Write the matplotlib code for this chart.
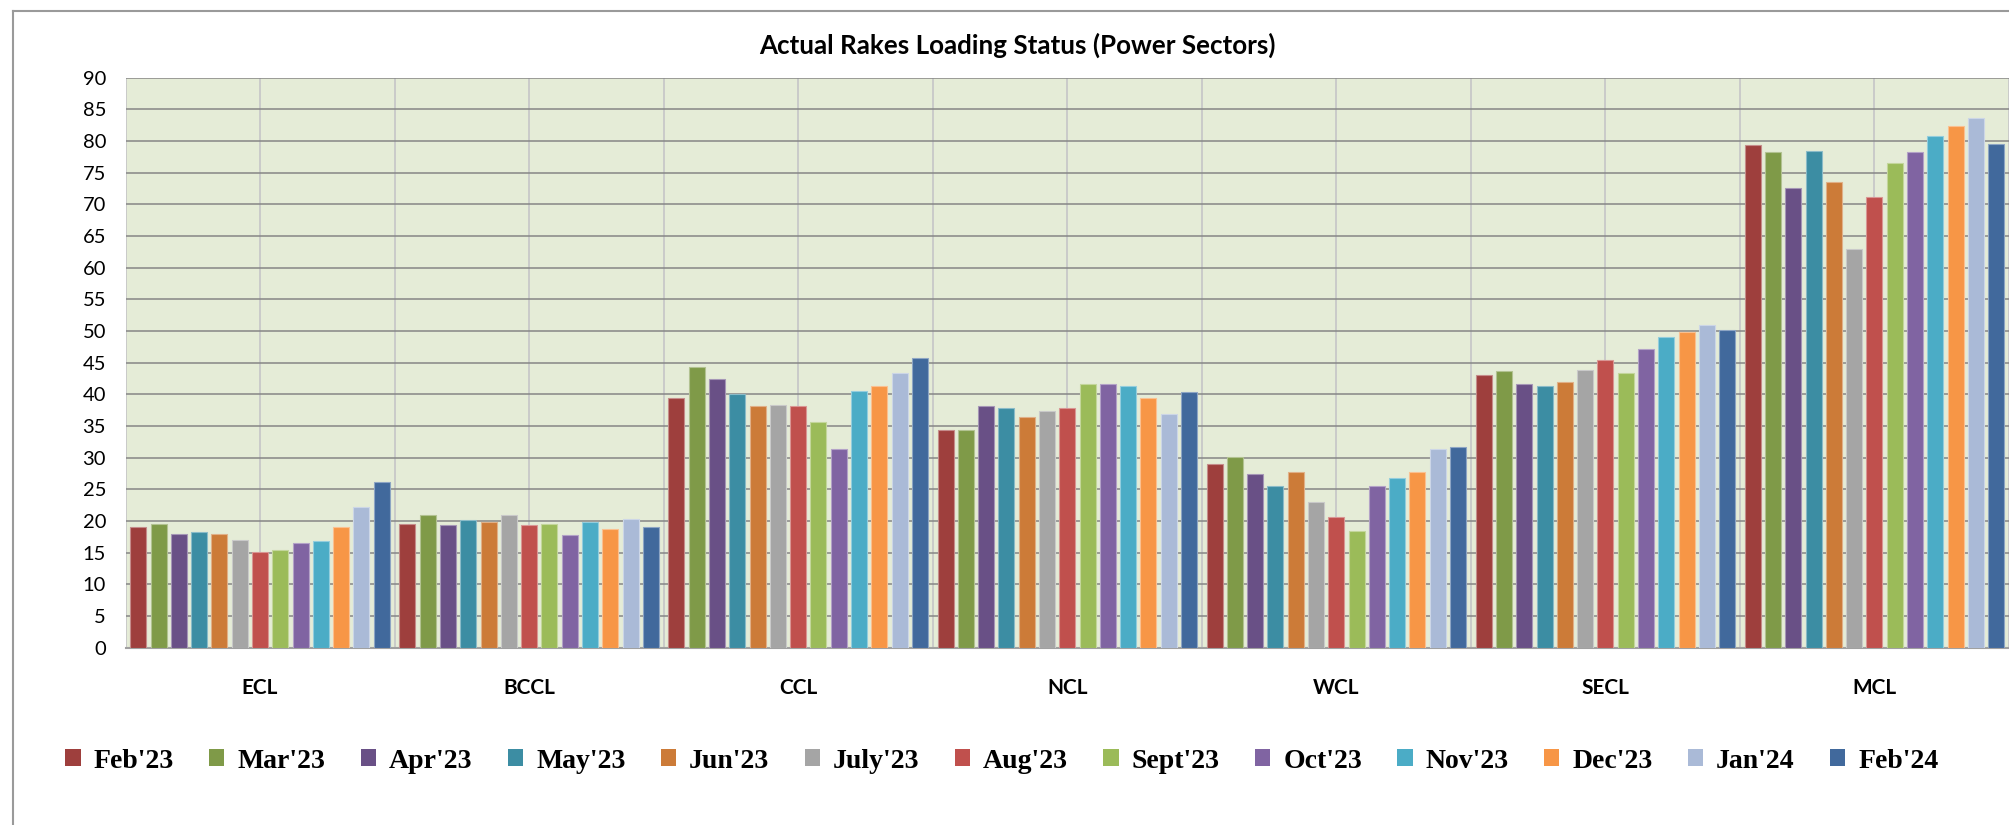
import matplotlib
matplotlib.use("Agg")
import matplotlib.pyplot as plt
import numpy as np
from matplotlib.lines import Line2D
from matplotlib.patches import Patch
import matplotlib.colors as mcolors

title = "Actual Rakes Loading Status (Power Sectors)"
companies = ["ECL", "BCCL", "CCL", "NCL", "WCL", "SECL", "MCL"]
months = ["Feb'23", "Mar'23", "Apr'23", "May'23", "Jun'23", "July'23", "Aug'23",
          "Sept'23", "Oct'23", "Nov'23", "Dec'23", "Jan'24", "Feb'24"]

feb23 = [19.0, 19.5, 39.5, 34.4, 29.0, 43.1, 79.4]
mar23 = [19.6, 21.0, 44.4, 34.3, 30.1, 43.7, 78.2]
apr23 = [18.0, 19.4, 42.4, 38.2, 27.4, 41.6, 72.6]
may23 = [18.3, 20.1, 40.0, 37.9, 25.6, 41.4, 78.5]
jun23 = [18.0, 19.8, 38.2, 36.4, 27.7, 42.0, 73.5]
jul23 = [17.0, 21.0, 38.4, 37.4, 23.0, 43.8, 62.9]
aug23 = [15.1, 19.4, 38.2, 37.9, 20.6, 45.4, 71.2]
sep23 = [15.5, 19.5, 35.7, 41.7, 18.4, 43.4, 76.6]
oct23 = [16.6, 17.8, 31.3, 41.6, 25.5, 47.1, 78.3]
nov23 = [16.9, 19.9, 40.5, 41.3, 26.8, 49.0, 80.8]
dec23 = [19.1, 18.8, 41.3, 39.5, 27.7, 49.8, 82.4]
jan24 = [22.2, 20.3, 43.3, 36.9, 31.4, 50.9, 83.6]
feb24 = [26.1, 19.1, 45.8, 40.3, 31.7, 50.1, 79.5]

series = [feb23, mar23, apr23, may23, jun23, jul23, aug23, sep23, oct23, nov23, dec23, jan24, feb24]
colors = ["#9E3F3D", "#7F9A48", "#695086", "#3C8DA3", "#CC7B38", "#A5A5A5", "#C0504D",
          "#9BBB59", "#8064A2", "#4BACC6", "#F79646", "#AABAD7", "#41699C"]

W, H = 2009, 825
fig = plt.figure(figsize=(W / 100, H / 100), dpi=100)
fig.patch.set_facecolor("white")

# outer chart frame (top and left visible)
fig.add_artist(Line2D([12.5 / W, 1.0], [1 - 11 / H, 1 - 11 / H], transform=fig.transFigure,
                      color="#9A9A9A", lw=1.5))
fig.add_artist(Line2D([12.5 / W, 12.5 / W], [0, 1 - 11 / H], transform=fig.transFigure,
                      color="#9A9A9A", lw=1.5))

ax = fig.add_axes([125.5 / W, (H - 647.7) / H, (W - 125.5) / W, (647.7 - 77.7) / H])
ax.set_facecolor("#E5ECD7")

x = np.arange(len(companies))
pitch = 0.0754
bw = 0.0594
n = len(series)
for i, (vals, c) in enumerate(zip(series, colors)):
    ec = mcolors.to_rgb(c)
    ec = tuple(0.6 * v + 0.4 for v in ec)
    ax.bar(x + (i - (n - 1) / 2) * pitch, vals, width=bw, color=c, edgecolor=ec,
           linewidth=0.8, label=months[i], zorder=3)

ax.set_xlim(-0.5, len(companies) - 0.5)
ax.set_ylim(0, 90)
ax.set_yticks(np.arange(0, 91, 5))
ax.set_xticks(x)
ax.set_xticklabels(companies, fontfamily="Lato", fontweight="bold", fontsize=15)
ax.set_xticks(np.arange(-0.5, len(companies), 1.0), minor=True)
ax.tick_params(axis="x", which="both", length=0, pad=22)
ax.tick_params(axis="y", length=0, pad=14, labelsize=14.5)
for lab in ax.get_yticklabels():
    lab.set_fontfamily("Lato")

ax.grid(axis="y", color="#868686", lw=1.1, zorder=1)
ax.grid(axis="x", which="minor", color="#C8C8C8", lw=1.3, zorder=1)
ax.grid(axis="x", which="major", color="#C8C8C8", lw=1.3, zorder=1)
ax.set_axisbelow(True)
for s in ["left", "right", "top"]:
    ax.spines[s].set_visible(False)
ax.spines["bottom"].set_color("#A0A0A0")
ax.spines["bottom"].set_linewidth(1.5)

fig.text(1017 / W, 1 - 45 / H, title, ha="center", va="center", fontfamily="Lato",
         fontweight="bold", fontsize=18.7)

handles = [Patch(facecolor=c, edgecolor="none") for c in colors]
leg = fig.legend(handles, months, loc="center", bbox_to_anchor=(1002 / W, 64 / H), ncol=13,
                 frameon=False, handlelength=0.55, handleheight=0.55, handletextpad=0.47,
                 columnspacing=1.27, prop={"family": "Liberation Serif", "weight": "bold", "size": 20})

fig.savefig("out.png", dpi=100)
